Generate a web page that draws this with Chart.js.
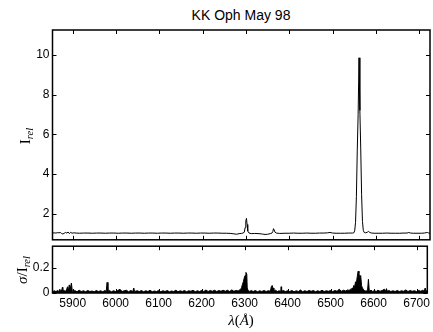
<!DOCTYPE html>
<html>
<head>
<meta charset="utf-8">
<script src="https://cdn.jsdelivr.net/npm/chart.js@4.4.1/dist/chart.umd.min.js"></script>
<style>
  body { margin: 0; background: #fff; }
  #wrap { position: relative; width: 433px; height: 332px; overflow: hidden; }
  canvas { position: absolute; left: 0; }
  .lbl { position: absolute; font-family: "Liberation Serif", "DejaVu Serif", serif; color: #000; white-space: nowrap; line-height: 1; }
  .rot { transform: translate(-50%, -50%) rotate(-90deg); }
  .lbl sub { font-size: 70%; font-style: italic; vertical-align: -0.25em; }
  #title { position: absolute; left: 241px; top: 15px; transform: translate(-50%, -50%); font: 14px "Liberation Sans", Arial, sans-serif; color: #000; white-space: nowrap; }
</style>
</head>
<body>
<div id="wrap">
  <div id="title">KK Oph May 98</div>
  <canvas id="topChart" width="433" height="250" style="top:0"></canvas>
  <canvas id="botChart" width="433" height="96" style="top:236px"></canvas>
  <div class="lbl rot" style="left:27px; top:136px; font-size:15px;">I<sub>rel</sub></div>
  <div class="lbl rot" style="left:24px; top:270px; font-size:15px;"><i>σ</i>/I<sub>rel</sub></div>
  <div class="lbl" style="left:241px; top:320px; font-size:15px; transform: translate(-50%, -50%);"><i>λ</i>(<i>Å</i>)</div>
</div>
<script>
// spectrum (relative intensity)
const specWave = [
  5853, 5857, 5861, 5865, 5868, 5871, 5874, 5877, 5880, 5883, 5886, 5889, 5892, 5895, 5898,
  5902, 5908, 5915, 5925, 5935, 5945, 5955, 5965, 5975, 5985, 5995,
  6005, 6015, 6025, 6035, 6045, 6055, 6065, 6075, 6085, 6095,
  6105, 6115, 6125, 6135, 6145, 6155, 6165, 6175, 6185, 6195,
  6205, 6215, 6225, 6235, 6245, 6255, 6265,
  6272, 6278, 6284, 6289, 6293, 6296, 6298, 6299.5, 6301, 6302.5, 6304, 6307, 6312,
  6320, 6330, 6338, 6344, 6350, 6356, 6360, 6362, 6363.5, 6365, 6367, 6370, 6378,
  6390, 6400, 6410, 6420, 6430, 6440, 6450, 6460, 6470, 6480, 6488, 6494, 6500, 6508, 6518, 6528, 6536, 6542, 6546,
  6549, 6551, 6553, 6555, 6557, 6559, 6561, 6563, 6565, 6567, 6569, 6571, 6573, 6576, 6580, 6583, 6586, 6590,
  6596, 6605, 6615, 6625, 6635, 6645, 6655, 6665, 6672, 6676, 6680, 6686, 6695, 6705, 6712, 6716, 6719, 6722, 6725
];
const specFlux = [
  1.02, 1.03, 1.02, 1.04, 1.03, 1.05, 1.00, 0.97, 1.01, 1.05, 1.02, 1.07, 0.99, 1.06, 1.01,
  1.03, 1.02, 1.01, 1.02, 1.02, 1.01, 1.02, 1.02, 1.01, 1.02, 1.02,
  1.01, 1.02, 1.02, 1.01, 1.02, 1.02, 1.01, 1.02, 1.02, 1.01,
  1.02, 1.02, 1.01, 1.02, 1.02, 1.01, 1.02, 1.02, 1.01, 1.02,
  1.02, 1.01, 1.02, 1.02, 1.01, 1.01, 1.00,
  0.98, 0.96, 0.99, 1.00, 1.02, 1.06, 1.30, 1.62, 1.76, 1.45, 1.12, 1.02, 0.99,
  1.00, 0.99, 0.97, 0.95, 0.96, 0.99, 1.02, 1.10, 1.24, 1.18, 1.06, 1.02, 1.00,
  1.01, 1.01, 1.02, 1.01, 1.01, 1.02, 1.01, 1.01, 1.02, 1.02, 1.03, 1.05, 1.02, 1.01, 1.01, 1.01, 1.02, 1.02, 1.02,
  1.03, 1.13, 1.56, 2.85, 5.20, 7.00, 9.85, 7.20, 5.30, 2.95, 1.60, 1.15, 1.05, 1.03, 1.06, 1.10, 1.05, 1.02,
  1.01, 1.01, 1.01, 1.02, 1.01, 1.01, 1.01, 1.02, 1.02, 1.05, 1.02, 1.01, 1.01, 1.01, 1.02, 1.04, 1.05, 1.02, 1.01
];

// sigma / I_rel
const errWave = [
  5853, 5857, 5861, 5865, 5868, 5870, 5872, 5875, 5876, 5877, 5880, 5883, 5886, 5888, 5890, 5892, 5894, 5897, 5899, 5902,
  5905, 5910, 5915, 5920, 5925, 5930, 5935, 5940, 5945, 5950, 5955, 5960, 5965, 5970, 5975,
  5978, 5980, 5982, 5985, 5990, 5995, 6000, 6005, 6010, 6015, 6020, 6025, 6030, 6035, 6040, 6042, 6044, 6050,
  6055, 6060, 6065, 6070, 6075, 6080, 6085, 6090, 6095, 6100,
  6105, 6110, 6115, 6120, 6125, 6130, 6135, 6140, 6145, 6150,
  6155, 6160, 6165, 6170, 6175, 6180, 6185, 6190, 6195, 6200,
  6205, 6210, 6215, 6220, 6225, 6230, 6235, 6240, 6245, 6250,
  6255, 6260, 6265, 6270, 6275, 6280, 6285, 6288, 6291, 6293, 6295, 6297, 6299, 6301, 6303, 6305, 6306, 6308, 6312, 6315,
  6320, 6325, 6330, 6335, 6340, 6345, 6350, 6355, 6360, 6362, 6364, 6366, 6368, 6372, 6376, 6380, 6384, 6385, 6386, 6390, 6395, 6400,
  6405, 6410, 6415, 6420, 6425, 6430, 6435, 6440, 6445, 6450,
  6455, 6460, 6465, 6470, 6475, 6480, 6485, 6490, 6495, 6500,
  6505, 6510, 6515, 6520, 6525, 6530, 6535, 6540,
  6543, 6546, 6548, 6550, 6552, 6554, 6556, 6558, 6560, 6562, 6564, 6566, 6568, 6570, 6572, 6574, 6576, 6579, 6582, 6586, 6588, 6590, 6594, 6598,
  6602, 6606, 6610, 6615, 6620, 6625, 6628, 6630, 6632, 6636, 6640, 6645, 6650,
  6655, 6660, 6665, 6670, 6675, 6680, 6685, 6690, 6695, 6700,
  6705, 6710, 6714, 6718, 6720, 6722, 6725
];
const errVal = [
  0.010, 0.018, 0.012, 0.020, 0.012, 0.030, 0.012, 0.030, 0.045, 0.015, 0.020, 0.012, 0.030, 0.050, 0.020, 0.065, 0.030, 0.080, 0.015, 0.012,
  0.020, 0.010, 0.022, 0.012, 0.018, 0.010, 0.020, 0.012, 0.016, 0.010, 0.020, 0.012, 0.018, 0.010, 0.020,
  0.012, 0.085, 0.012, 0.020, 0.010, 0.018, 0.012, 0.020, 0.030, 0.012, 0.018, 0.022, 0.010, 0.020, 0.012, 0.040, 0.012, 0.018,
  0.012, 0.020, 0.010, 0.018, 0.012, 0.022, 0.010, 0.016, 0.012, 0.020,
  0.010, 0.018, 0.012, 0.020, 0.010, 0.016, 0.012, 0.022, 0.010, 0.018,
  0.012, 0.020, 0.010, 0.018, 0.014, 0.022, 0.010, 0.018, 0.012, 0.020,
  0.012, 0.024, 0.012, 0.020, 0.014, 0.022, 0.012, 0.020, 0.014, 0.022,
  0.014, 0.022, 0.012, 0.025, 0.014, 0.020, 0.016, 0.025, 0.030, 0.045, 0.070, 0.090, 0.120, 0.140, 0.165, 0.150, 0.040, 0.020, 0.012, 0.020,
  0.012, 0.020, 0.010, 0.018, 0.012, 0.020, 0.012, 0.018, 0.015, 0.050, 0.060, 0.040, 0.015, 0.022, 0.012, 0.018, 0.012, 0.050, 0.014, 0.020, 0.012, 0.018,
  0.012, 0.020, 0.010, 0.018, 0.012, 0.024, 0.010, 0.018, 0.012, 0.020,
  0.014, 0.020, 0.010, 0.018, 0.012, 0.022, 0.012, 0.018, 0.014, 0.020,
  0.012, 0.020, 0.014, 0.030, 0.014, 0.022, 0.016, 0.025,
  0.020, 0.030, 0.025, 0.040, 0.035, 0.060, 0.050, 0.090, 0.080, 0.130, 0.175, 0.160, 0.110, 0.140, 0.060, 0.040, 0.030, 0.020, 0.015, 0.020, 0.110, 0.015, 0.022, 0.012,
  0.020, 0.012, 0.022, 0.014, 0.020, 0.030, 0.014, 0.035, 0.014, 0.020, 0.012, 0.018, 0.012,
  0.020, 0.012, 0.018, 0.014, 0.025, 0.012, 0.020, 0.014, 0.018, 0.012,
  0.020, 0.014, 0.022, 0.015, 0.040, 0.015, 0.020
];

const xTicks = [5900, 6000, 6100, 6200, 6300, 6400, 6500, 6600, 6700];
const topYTicks = [2, 4, 6, 8, 10];
const botYTicks = [0, 0.2];

const xMin = 5853, xMax = 6725;
const tickFont = { family: "'Liberation Sans', Arial, sans-serif", size: 12 };

// matlab-like box with inward ticks on all sides
const boxTicks = {
  id: 'boxTicks',
  afterDraw(chart) {
    const { ctx, chartArea: a, scales } = chart;
    const len = 4;
    ctx.save();
    ctx.strokeStyle = '#000';
    ctx.lineWidth = 1;
    ctx.beginPath();
    scales.x.ticks.forEach(t => {
      const px = Math.round(scales.x.getPixelForValue(t.value)) + 0.5;
      ctx.moveTo(px, a.top); ctx.lineTo(px, a.top + len);
      ctx.moveTo(px, a.bottom); ctx.lineTo(px, a.bottom - len);
    });
    scales.y.ticks.forEach(t => {
      const py = Math.round(scales.y.getPixelForValue(t.value)) + 0.5;
      ctx.moveTo(a.left, py); ctx.lineTo(a.left + len, py);
      ctx.moveTo(a.right, py); ctx.lineTo(a.right - len, py);
    });
    ctx.stroke();
    ctx.lineWidth = 1.5;
    ctx.strokeRect(a.left, a.top, a.right - a.left, a.bottom - a.top);
    ctx.restore();
  }
};

function fixTicks(list) {
  return scale => { scale.ticks = list.map(v => ({ value: v })); };
}

new Chart(document.getElementById('topChart'), {
  type: 'line',
  data: {
    datasets: [{
      data: specWave.map((w, i) => ({ x: w, y: specFlux[i] })),
      borderColor: '#000',
      borderWidth: 1,
      borderJoinStyle: 'round',
      pointRadius: 0,
      tension: 0,
      fill: false
    }]
  },
  options: {
    responsive: false,
    animation: false,
    layout: { padding: { left: 0, right: 3, top: 30, bottom: 7 } },
    plugins: { legend: { display: false }, title: { display: false }, tooltip: { enabled: false } },
    scales: {
      x: {
        type: 'linear', min: xMin, max: xMax, display: false,
        afterBuildTicks: fixTicks(xTicks)
      },
      y: {
        min: 0.68, max: 11.25,
        afterBuildTicks: fixTicks(topYTicks),
        afterFit: s => { s.width = 52.5; },
        grid: { display: false, drawTicks: false },
        border: { display: false },
        ticks: { font: tickFont, color: '#000', padding: 3 }
      }
    }
  },
  plugins: [boxTicks]
});

new Chart(document.getElementById('botChart'), {
  type: 'line',
  data: {
    datasets: [{
      data: errWave.map((w, i) => ({ x: w, y: errVal[i] })),
      borderColor: '#000',
      backgroundColor: '#000',
      borderWidth: 1,
      borderJoinStyle: 'round',
      pointRadius: 0,
      tension: 0,
      fill: 'origin'
    }]
  },
  options: {
    responsive: false,
    animation: false,
    layout: { padding: { left: 0, right: 3, top: 7, bottom: 0 } },
    plugins: { legend: { display: false }, title: { display: false }, tooltip: { enabled: false } },
    scales: {
      x: {
        type: 'linear', min: xMin, max: xMax,
        afterBuildTicks: fixTicks(xTicks),
        afterFit: s => { s.height = 39; },
        grid: { display: false, drawTicks: false },
        border: { display: false },
        ticks: { font: tickFont, color: '#000', padding: 3, maxRotation: 0, autoSkip: false, callback: v => String(v) }
      },
      y: {
        min: 0, max: 0.375,
        afterBuildTicks: fixTicks(botYTicks),
        afterFit: s => { s.width = 52.5; },
        grid: { display: false, drawTicks: false },
        border: { display: false },
        ticks: { font: tickFont, color: '#000', padding: 3 }
      }
    }
  },
  plugins: [boxTicks]
});
</script>
</body>
</html>
